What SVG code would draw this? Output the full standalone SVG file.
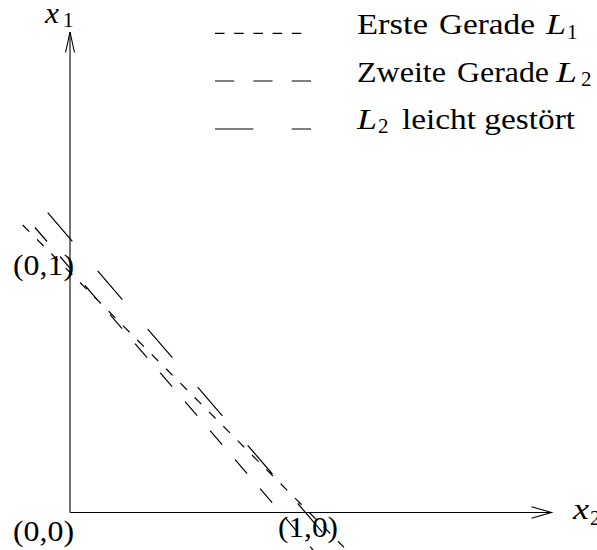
<svg xmlns="http://www.w3.org/2000/svg" width="597" height="550" viewBox="0 0 597 550">
<style>
text{font-family:"Liberation Serif","Times New Roman",serif;fill:#000;font-size:30px}
.it{font-style:italic}
.sub{font-size:21px}
.ax{stroke:#000;stroke-width:1.1;fill:none}
.ln{stroke:#000;stroke-width:1.2;fill:none}
.s{stroke-dasharray:9.3 11}
.m{stroke-dasharray:18.5 19.8}
.p{stroke-dasharray:37.8 38.9}
</style>
<rect width="597" height="550" fill="#fff"/>
<g id="axes">
<line class="ax" x1="70" y1="512.5" x2="70" y2="32"/>
<polyline class="ax" points="65.5,52.5 70,32 74.5,52.5"/>
<line class="ax" x1="70" y1="512.5" x2="551.5" y2="512.5"/>
<polyline class="ax" points="531.5,506.7 551.5,512.5 531.5,518.3"/>
</g>
<g id="axis-labels">
<text x="45" y="23" class="it" textLength="14" lengthAdjust="spacingAndGlyphs">x</text><text x="63" y="27" class="sub">1</text>
<text x="573" y="519" class="it" textLength="16" lengthAdjust="spacingAndGlyphs">x</text><text x="590" y="525" class="sub">2</text>
</g>
<g id="point-labels">
<text x="13" y="541" textLength="61" lengthAdjust="spacingAndGlyphs">(0,0)</text>
<text x="13" y="275" textLength="61" lengthAdjust="spacingAndGlyphs">(0,1)</text>
<text x="278" y="537" textLength="60" lengthAdjust="spacingAndGlyphs">(1,0)</text>
</g>
<g id="connectors">
<line id="L1" class="ln s" x1="22.7" y1="225" x2="344" y2="547.3"/>
<line id="L2" class="ln m" x1="35" y1="227.5" x2="322" y2="560.4"/>
<line id="L2p" class="ln p" x1="47.7" y1="212.7" x2="322.3" y2="532.1"/>
</g>
<g id="legend">
<g id="legend-L1">
<line class="ln" x1="215" y1="33.3" x2="301.5" y2="33.3" stroke-dasharray="9.5 9.7"/>
<text y="34.3" lengthAdjust="spacingAndGlyphs" x="357" textLength="71">Erste</text>
<text y="34.3" lengthAdjust="spacingAndGlyphs" x="439" textLength="96">Gerade</text>
<text y="34.3" lengthAdjust="spacingAndGlyphs" x="546" textLength="20" class="it">L</text>
<text x="567" y="38.5" class="sub">1</text>
</g>
<g id="legend-L2">
<line class="ln" x1="215" y1="81" x2="311" y2="81" stroke-dasharray="19.2 19.2"/>
<text y="81.5" lengthAdjust="spacingAndGlyphs" x="357" textLength="89">Zweite</text>
<text y="81.5" lengthAdjust="spacingAndGlyphs" x="457" textLength="92">Gerade</text>
<text y="81.5" lengthAdjust="spacingAndGlyphs" x="556" textLength="21" class="it">L</text>
<text x="581" y="86" class="sub">2</text>
</g>
<g id="legend-L2p">
<line class="ln" x1="215" y1="129" x2="311" y2="129" stroke-dasharray="38.3 38.4"/>
<text y="128.5" lengthAdjust="spacingAndGlyphs" x="357" textLength="20" class="it">L</text>
<text x="378" y="133" class="sub">2</text>
<text x="402" y="128.5" textLength="173" lengthAdjust="spacingAndGlyphs">leicht gestört</text>
</g>
</g>
</svg>
